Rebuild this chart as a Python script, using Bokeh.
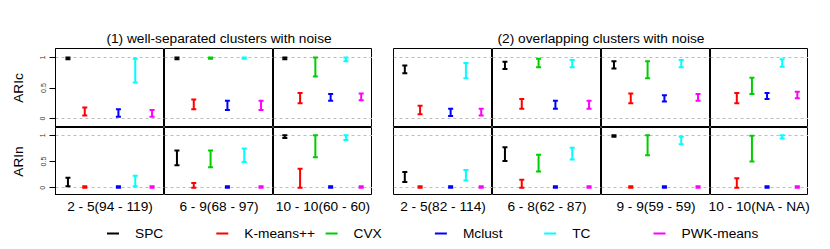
from bokeh.plotting import figure
from bokeh.layouts import column, row
from bokeh.models import FixedTicker, Spacer, ColumnDataSource, Range1d, NumeralTickFormatter
from bokeh.core.properties import value
from bokeh.embed import file_html
from bokeh.resources import INLINE

FONT = "Liberation Sans"

methods = ["SPC", "K-means++", "CVX", "Mclust", "TC", "PWK-means"]
colors = ["black", "red", "#00CD00", "blue", "cyan", "magenta"]

group_titles = ["(1) well-separated clusters with noise", "(2) overlapping clusters with noise"]
row_labels = ["ARIc", "ARIn"]

g1_labels = ["2 - 5(94 - 119)", "6 - 9(68 - 97)", "10 - 10(60 - 60)"]
g2_labels = ["2 - 5(82 - 114)", "6 - 8(62 - 87)", "9 - 9(59 - 59)", "10 - 10(NA - NA)"]

# (1) well-separated: ARIc lower / upper, one list per column, in method order
g1_aric_lo = [[0.97, 0.05, None, 0.03, 0.59, 0.03],
              [0.97, 0.15, 0.98, 0.14, 0.98, 0.14],
              [0.97, 0.25, 0.69, 0.29, 0.94, 0.30]]
g1_aric_hi = [[1.00, 0.18, None, 0.15, 0.98, 0.14],
              [1.00, 0.31, 1.00, 0.29, 1.00, 0.29],
              [1.00, 0.42, 1.00, 0.40, 1.00, 0.41]]
g1_arin_lo = [[0.03, 0.00, None, 0.00, 0.03, 0.00],
              [0.43, 0.00, 0.39, 0.00, 0.49, 0.00],
              [0.95, 0.00, 0.58, 0.00, 0.91, 0.00]]
g1_arin_hi = [[0.19, 0.03, None, 0.03, 0.23, 0.03],
              [0.71, 0.09, 0.71, 0.03, 0.75, 0.03],
              [1.00, 0.36, 1.00, 0.03, 1.00, 0.03]]

# (2) overlapping
g2_aric_lo = [[0.74, 0.07, None, 0.04, 0.66, 0.05],
              [0.81, 0.16, 0.84, 0.16, 0.84, 0.16],
              [0.82, 0.25, 0.66, 0.28, 0.84, 0.29],
              [None, 0.25, 0.40, 0.32, 0.85, 0.33]]
g2_aric_hi = [[0.87, 0.21, None, 0.16, 0.91, 0.16],
              [0.93, 0.32, 0.98, 0.29, 0.96, 0.29],
              [0.94, 0.41, 0.94, 0.38, 0.96, 0.40],
              [None, 0.42, 0.67, 0.42, 0.97, 0.44]]
g2_arin_lo = [[0.11, 0.00, None, 0.00, 0.14, 0.00],
              [0.51, 0.00, 0.31, 0.00, 0.54, 0.00],
              [0.97, 0.00, 0.62, 0.00, 0.83, 0.00],
              [None, 0.00, 0.50, 0.00, 0.94, 0.00]]
g2_arin_hi = [[0.30, 0.03, None, 0.03, 0.34, 0.03],
              [0.77, 0.15, 0.63, 0.03, 0.76, 0.03],
              [1.00, 0.03, 1.00, 0.03, 0.97, 0.03],
              [None, 0.18, 0.99, 0.03, 1.00, 0.03]]

# ---- layout sizes (pixels) ----
LEFT_MARGIN = 55
g1_widths = [109, 109, 99]
g2_widths = [99, 109, 109, 98]
GAP = 21
ROW_H = [79, 68]
TOTAL_W = 822
TITLE_H = 48
BOTTOM_H = 52


def panel(lo, hi, w, h, label=None):
    left = LEFT_MARGIN if label else 0
    p = figure(width=w + left, height=h, title=None,
               x_range=Range1d(0.26, 6.74), y_range=Range1d(-0.148, 1.148),
               output_backend="svg", toolbar_location=None,
               x_axis_location=None, y_axis_location="left" if label else None,
               min_border=0, min_border_left=left, min_border_right=0,
               min_border_top=0, min_border_bottom=0)
    p.outline_line_color = "black"
    p.outline_line_width = 1
    p.xgrid.visible = False
    p.ygrid.ticker = FixedTicker(ticks=[0, 1])
    p.ygrid.grid_line_color = "#bdbdbd"
    p.ygrid.grid_line_dash = "3 3"
    p.ygrid.grid_line_width = 1
    xs, l, u, c = [], [], [], []
    for i in range(len(methods)):
        if lo[i] is None:
            continue
        xs.append(i + 1)
        l.append(lo[i])
        u.append(hi[i])
        c.append(colors[i])
    src = ColumnDataSource(dict(x=xs, lo=l, hi=u, color=c))
    p.segment(x0="x", y0="lo", x1="x", y1="hi", line_color="color", line_width=2, source=src)
    p.scatter(x="x", y="lo", marker="dash", size=5, line_color="color", line_width=2, source=src)
    p.scatter(x="x", y="hi", marker="dash", size=5, line_color="color", line_width=2, source=src)
    if label:
        ax = p.yaxis[0]
        ax.ticker = FixedTicker(ticks=[0, 0.5, 1])
        ax.formatter = NumeralTickFormatter(format="0.[0]")
        ax.major_label_orientation = "vertical"
        ax.major_label_text_font_size = "7px"
        ax.major_label_text_font = FONT
        ax.major_label_text_color = "#333333"
        ax.major_label_standoff = 4
        ax.minor_tick_line_color = None
        ax.major_tick_in = 0
        ax.major_tick_out = 6
        ax.major_tick_line_color = "black"
        ax.axis_line_color = "black"
        ax.axis_label = label
        ax.axis_label_text_font = FONT
        ax.axis_label_text_font_size = "13.7px"
        ax.axis_label_text_font_style = "normal"
        ax.axis_label_text_color = "black"
        ax.axis_label_standoff = 12
    return p


rows = []
for r, (d1lo, d1hi, d2lo, d2hi) in enumerate([(g1_aric_lo, g1_aric_hi, g2_aric_lo, g2_aric_hi),
                                               (g1_arin_lo, g1_arin_hi, g2_arin_lo, g2_arin_hi)]):
    kids = []
    for c, w in enumerate(g1_widths):
        kids.append(panel(d1lo[c], d1hi[c], w, ROW_H[r], row_labels[r] if c == 0 else None))
    kids.append(Spacer(width=GAP, height=ROW_H[r]))
    for c, w in enumerate(g2_widths):
        kids.append(panel(d2lo[c], d2hi[c], w, ROW_H[r]))
    rows.append(row(*kids, spacing=0))


def blank(h):
    f = figure(width=TOTAL_W, height=h, title=None,
               x_range=Range1d(0, TOTAL_W), y_range=Range1d(0, h),
               output_backend="svg", toolbar_location=None,
               x_axis_location=None, y_axis_location=None, min_border=0)
    f.outline_line_color = None
    f.xgrid.visible = False
    f.ygrid.visible = False
    return f


# group frame extents (pixel positions in the page row)
g1_start = LEFT_MARGIN
g1_end = g1_start + sum(g1_widths)
g2_start = g1_end + GAP
g2_end = g2_start + sum(g2_widths)

top = blank(TITLE_H)
top.text(x=[(g1_start + g1_end) / 2 + 5, (g2_start + g2_end) / 2], y=[TITLE_H - 37.5] * 2, text=group_titles,
         text_align="center", text_baseline="middle",
         text_font=value(FONT), text_font_size="13.7px", text_color="black")

bottom = blank(BOTTOM_H)
centers = []
x0 = g1_start
for w in g1_widths:
    centers.append(x0 + w / 2)
    x0 += w
x0 = g2_start
for w in g2_widths:
    centers.append(x0 + w / 2)
    x0 += w
bottom.text(x=centers, y=[BOTTOM_H - 10.5] * len(centers), text=g1_labels + g2_labels,
            text_align="center", text_baseline="middle",
            text_font=value(FONT), text_font_size="13.7px", text_color="black")

# legend: evenly spaced items
leg_step = 109.3
leg_x = [112.5 + i * leg_step for i in range(len(methods))]
leg_y = BOTTOM_H - 38
bottom.segment(x0=[x - 6 for x in leg_x], y0=[leg_y] * 6, x1=[x + 6 for x in leg_x], y1=[leg_y] * 6,
               line_color=colors, line_width=2)
bottom.text(x=[x + 22 for x in leg_x], y=[leg_y] * 6, text=methods,
            text_align="left", text_baseline="middle",
            text_font=value(FONT), text_font_size="13.7px", text_color="black")

p = column(top, rows[0], rows[1], bottom, spacing=0)

open("out.html", "w").write(file_html(p, INLINE))
